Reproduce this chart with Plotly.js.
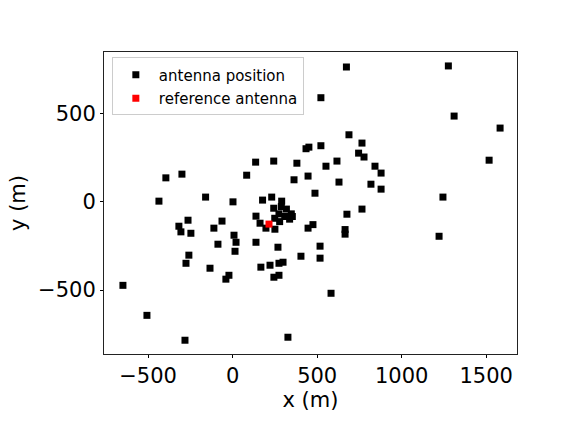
<!DOCTYPE html>
<html>
<head>
<meta charset="utf-8">
<script src="https://cdn.plot.ly/plotly-3.0.1.min.js"></script>
<style>
  html, body { margin: 0; padding: 0; background: #fff; }
  #chart { width: 576px; height: 432px; }
</style>
</head>
<body>
<div id="chart"></div>
<script>
// antenna positions (m)
const antennaX = [
  -395, -300, -436, -160, 2, 83, 136, 243, 363, 380, 434, 451, 446, 177, 231, 290,
  673, 1276, 522, 1310, 1582, 688, 765, 522, 745, 777, 617, 552, 842, 1517, 878, 629,
  818, 487, 878, 1244, 676, 765, 475, 446, 665, 665, 1221, 517, 517, 404, 582,
  -264, -318, -306, -247, -63, -111, 8, 20, -87, 14, -259, -276, -134, -22, -40,
  -649, -507, -282, 327, 138, 268, 167, 221, 274, 298, 244, 274, 138, 162, 197, 250,
  243, 288, 318, 347, 274, 308, 337, 278, 249, 353,
];
const antennaY = [
  136, 157, 4, 27, 0, 151, 225, 231, 125, 219, 301, 310, 146, 10, 27, 4,
  764, 770, 590, 486, 418, 380, 333, 318, 276, 254, 231, 202, 202, 236, 163, 112,
  100, 49, 72, 27, -70, -41, -129, -149, -157, -183, -195, -251, -319, -308, -518,
  -104, -138, -170, -178, -109, -149, -189, -229, -240, -280, -302, -348, -376, -416, -438,
  -473, -643, -784, -767, -229, -257, -370, -359, -348, -342, -427, -416, -81, -121, -149, -155,
  -36, -27, -41, -68, -68, -83, -98, -112, -93, -83,
];
const refX = [215];
const refY = [-126];

const X_TICKS = [-500, 0, 500, 1000, 1500];
const Y_TICKS = [-500, 0, 500];

const FONT = "DejaVu Sans, Liberation Sans, sans-serif";

function axisStyle(tickvals, title, standoff) {
  return {
    tickvals,
    ticks: "outside",
    ticklen: 3,
    tickwidth: 1,
    tickcolor: "#000",
    showline: true,
    linecolor: "#222",
    linewidth: 1,
    mirror: true,
    showgrid: false,
    zeroline: false,
    tickfont: { family: FONT, size: 21, color: "#000" },
    title: { text: title, font: { family: FONT, size: 21, color: "#000" }, standoff },
  };
}

function main() {
  const traces = [
    {
      type: "scatter",
      mode: "markers",
      name: "antenna position",
      legendgroup: "a",
      x: antennaX,
      y: antennaY,
      marker: { symbol: "square", size: 7, color: "#000" },
    },
    {
      type: "scatter",
      mode: "markers",
      name: "reference antenna",
      legendgroup: "b",
      x: refX,
      y: refY,
      marker: { symbol: "square", size: 7, color: "#ff0000" },
    },
  ];

  const layout = {
    width: 576,
    height: 432,
    paper_bgcolor: "#fff",
    plot_bgcolor: "#fff",
    margin: { l: 104, r: 59, t: 52, b: 78 },
    font: { family: FONT, color: "#000" },
    xaxis: { ...axisStyle(X_TICKS, "x (m)", 0), range: [-761, 1682] },
    yaxis: { ...axisStyle(Y_TICKS, "y (m)", 6), range: [-862, 849] },
    showlegend: true,
    legend: {
      x: 0.019,
      y: 0.982,
      xanchor: "left",
      yanchor: "top",
      bgcolor: "rgba(255,255,255,0.8)",
      bordercolor: "#cccccc",
      borderwidth: 1,
      tracegroupgap: 1,
      itemwidth: 36,
      font: { family: FONT, size: 15, color: "#000" },
    },
  };

  Plotly.newPlot("chart", traces, layout, { staticPlot: true });
}

main();
</script>
</body>
</html>
